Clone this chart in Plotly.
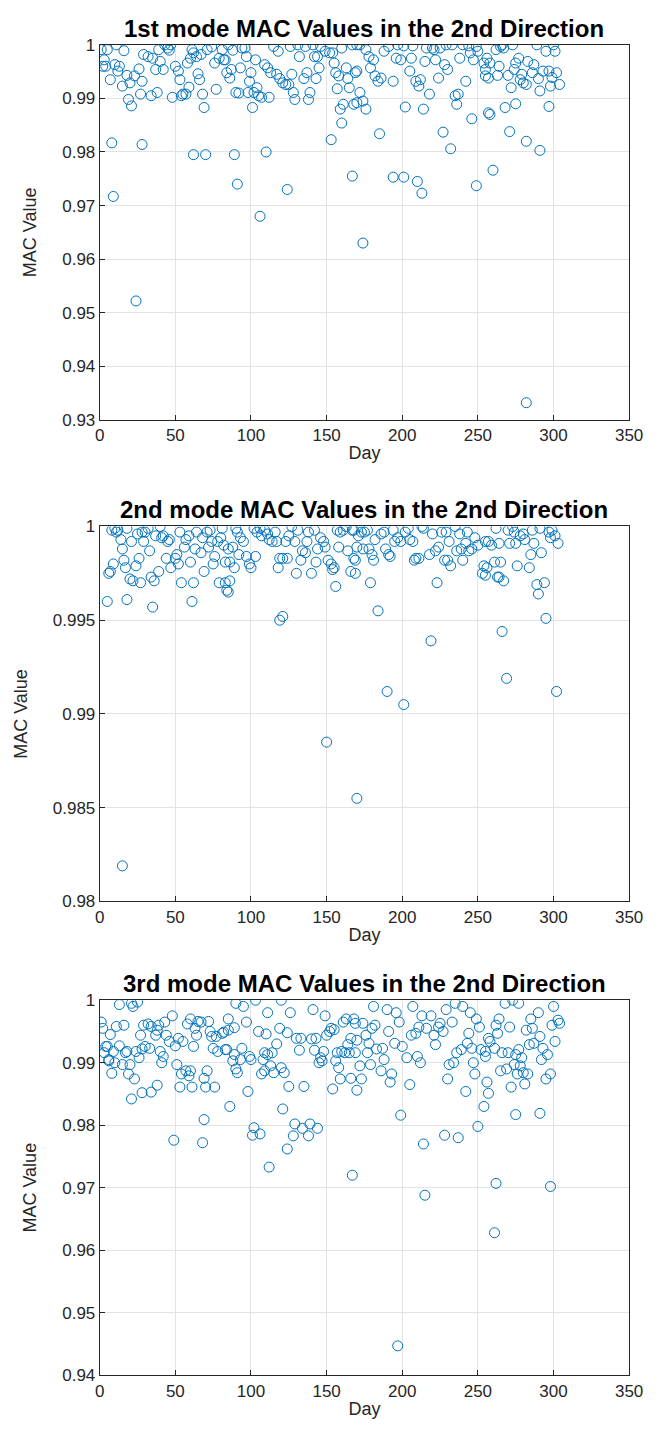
import plotly.graph_objects as go

# ---------------- data ----------------
day1 = [1, 5, 3, 4, 2, 7, 11, 16, 10, 13, 12, 15, 19, 21, 18, 23, 20, 26, 29, 32,
        27, 28, 35, 34, 38, 40, 37, 42, 39, 43, 45, 47, 46, 48, 50, 53, 52, 54, 55, 57,
        59, 58, 60, 62, 61, 65, 66, 68, 64, 69, 67, 71, 74, 77, 76, 79, 81, 82, 84,
        8, 28, 62, 70, 9, 24,
        85, 83, 88, 87, 86, 94, 96, 97, 93, 100, 99, 103, 90, 92, 98, 102, 104, 105, 107, 112,
        101, 109, 111, 113, 115, 118, 117, 119, 121, 123, 125, 127, 128, 129, 126, 131, 132, 136, 135, 137,
        139, 138, 141, 142, 144, 145, 143, 146, 149, 152, 154, 155, 156, 158, 157, 161, 159, 160, 163, 164,
        165, 167, 169, 168,
        89, 110, 153, 160, 91, 106, 124, 167, 174,
        170, 172, 176, 178, 179, 181, 170, 172, 170, 174, 176, 182, 184, 186, 188, 191, 194, 196, 199, 197,
        201, 206, 205, 207, 209, 211, 212, 215, 218, 216, 220, 222, 224, 221, 225, 228, 230, 229, 233, 235,
        237, 236, 238, 240, 242, 244, 245, 247, 249, 250, 254, 255,
        185, 227, 232, 246, 202, 214, 257, 194, 201, 210, 213, 249,
        256, 255, 257, 258, 262, 263, 265, 266, 264, 267, 270, 272, 273, 274, 275, 277, 278, 279, 280, 282,
        283, 286, 287, 289, 290, 291, 293, 295, 297, 298, 299, 300, 301, 302, 304,
        258, 268, 275, 271, 282, 291, 297, 260, 282]
mac1 = [0.9991, 0.9991, 0.9972, 0.9960, 0.9960, 0.9935, 1.0000, 0.9989, 0.9963, 0.9960,
        0.9951, 0.9923, 0.9898, 0.9886, 0.9943, 0.9942, 0.9929, 0.9955, 0.9982, 0.9978,
        0.9908, 0.9932, 0.9975, 0.9905, 0.9911, 0.9969, 0.9954, 0.9954, 0.9991, 1.0000,
        0.9994, 1.0000, 0.9990, 0.9902, 0.9960, 0.9935, 0.9951, 0.9905, 0.9908, 0.9908,
        0.9921, 0.9966, 0.9975, 0.9985, 0.9991, 0.9946, 0.9935, 0.9908, 0.9978, 0.9883,
        0.9982, 0.9991, 0.9996, 0.9917, 0.9966, 0.9975, 0.9991, 0.9972, 0.9948,
        0.9817, 0.9814, 0.9795, 0.9795, 0.9717, 0.9522,
        1.0000, 0.9972, 0.9990, 0.9954, 0.9938, 0.9994, 0.9994, 0.9978, 0.9957, 0.9948,
        0.9932, 0.9972, 0.9911, 0.9910, 0.9911, 0.9911, 0.9920, 0.9905, 0.9902, 0.9902,
        0.9883, 0.9963, 0.9957, 0.9948, 0.9997, 0.9988, 0.9945, 0.9937, 0.9929, 0.9926,
        0.9926, 0.9945, 0.9911, 0.9898, 0.9997, 1.0000, 0.9978, 0.9997, 0.9937, 0.9948,
        0.9911, 0.9898, 1.0000, 0.9978, 0.9978, 0.9957, 0.9937, 0.9997, 0.9988, 0.9985,
        0.9985, 0.9966, 0.9948, 0.9942, 0.9918, 0.9889, 0.9880, 0.9994, 0.9957, 0.9937,
        0.9920, 1.0000, 0.9948, 0.9889,
        0.9795, 0.9800, 0.9823, 0.9854, 0.9740, 0.9680, 0.9730, 0.9755, 0.9630,
        1.0000, 1.0000, 0.9991, 0.9978, 0.9957, 0.9972, 0.9951, 0.9911, 0.9892, 0.9895,
        0.9880, 0.9942, 0.9932, 0.9938, 0.9988, 0.9997, 0.9932, 0.9975, 0.9972, 1.0000,
        0.9998, 0.9975, 0.9951, 0.9998, 0.9932, 0.9923, 0.9935, 0.9969, 0.9908, 0.9994,
        0.9994, 0.9972, 0.9938, 0.9991, 0.9994, 0.9963, 0.9954, 1.0000, 1.0000, 0.9905,
        0.9908, 0.9889, 0.9975, 1.0000, 0.9932, 0.9998, 0.9985, 0.9972, 0.9997, 0.9988,
        0.9966, 0.9942,
        0.9834, 0.9837, 0.9806, 0.9862, 0.9884, 0.9880, 0.9873, 0.9753, 0.9753, 0.9745,
        0.9723, 0.9737,
        0.9975, 0.9954, 0.9938, 0.9966, 0.9991, 0.9943, 0.9997, 1.0000, 0.9960, 0.9994,
        0.9943, 0.9920, 1.0000, 0.9954, 0.9966, 0.9975, 0.9935, 0.9945, 0.9929, 0.9926,
        0.9969, 0.9948, 0.9963, 1.0000, 0.9937, 0.9914, 0.9951, 0.9988, 0.9951, 0.9923,
        0.9939, 1.0000, 0.9988, 0.9948, 0.9926,
        0.9870, 0.9883, 0.9890, 0.9838, 0.9820, 0.9803, 0.9885, 0.9766, 0.9332]

day2 = [6, 7, 5, 9, 8, 11, 10, 12, 14, 15, 16, 17, 18, 18, 20, 22, 21, 24, 25, 26,
        27, 28, 29, 30, 32, 33, 35, 34, 36, 37, 39, 40, 41, 42, 44, 45, 46, 47, 50, 51,
        52, 53, 54, 56, 57, 59, 60, 61, 62, 63, 64, 67, 68, 69, 71, 72, 73, 74, 75, 76,
        78, 79, 80, 81, 82, 84, 83, 15,
        85, 88, 86, 89, 83, 86, 85, 90, 91, 93, 95, 92, 97, 99, 100, 103, 102, 104, 106, 107,
        109, 111, 112, 114, 116, 117, 119, 118, 121, 124, 119, 121, 123, 125, 127, 129, 131, 130, 133, 134,
        136, 137, 138, 140, 142, 143, 144, 146, 148, 149, 151, 153, 154, 155, 156, 157, 158, 159, 161, 163,
        164, 166, 167, 169, 150, 170,
        168, 171, 173, 175, 177, 170, 168, 169, 174, 178, 180, 181, 179, 184, 182, 186, 188, 189, 191, 192,
        194, 195, 197, 199, 202, 204, 205, 207, 208, 209, 211, 213, 214, 218, 220, 222, 223, 224, 226, 228,
        229, 231, 230, 232, 235, 236, 238, 239, 240, 242, 243, 244, 246, 248, 250, 253, 254, 255,
        219, 190, 201,
        257, 259, 256, 255, 261, 262, 263, 264, 265, 264, 267, 266, 270, 271, 273, 274, 275, 276, 278, 280,
        281, 284, 285, 287, 289, 290, 292, 294, 295, 297, 298, 299, 301, 303, 291, 286, 269, 302]
mac2 = [0.9975, 0.9976, 0.9960, 0.9980, 0.9998, 0.9997, 0.9999, 0.9998, 0.9993, 0.9988,
        0.9982, 0.9978, 0.9999, 0.9961, 0.9972, 0.9971, 0.9992, 0.9979, 0.9996, 0.9983,
        0.9970, 0.9997, 0.9992, 0.9997, 0.9999, 0.9987, 0.9957, 0.9973, 0.9971, 0.9995,
        0.9976, 1.0000, 0.9994, 0.9995, 0.9983, 0.9992, 0.9993, 0.9978, 0.9983, 0.9985,
        0.9980, 0.9997, 0.9970, 0.9989, 0.9993, 0.9995, 0.9981, 0.9960, 0.9970, 0.9988,
        0.9997, 0.9986, 0.9994, 0.9976, 0.9997, 0.9989, 0.9998, 0.9992, 0.9980, 0.9984,
        0.9992, 0.9970, 0.9994, 0.9999, 0.9990, 0.9966, 0.9981, 0.9819,
        0.9988, 0.9989, 0.9981, 0.9978, 0.9970, 0.9971, 0.9965, 0.9999, 0.9997, 0.9994,
        0.9992, 0.9985, 0.9984, 0.9980, 0.9978, 0.9984, 0.9999, 0.9997, 0.9999, 0.9995,
        0.9998, 0.9996, 0.9993, 0.9992, 0.9997, 0.9992, 0.9983, 0.9978, 0.9983, 0.9983,
        0.9950, 0.9952, 0.9992, 0.9995, 1.0000, 0.9992, 0.9998, 0.9975, 0.9982, 0.9987,
        0.9986, 0.9992, 0.9997, 0.9975, 0.9998, 0.9981, 0.9988, 0.9994, 0.9992, 0.9989,
        0.9982, 0.9980, 0.9977, 0.9978, 0.9968, 0.9998, 0.9989, 0.9997, 0.9998, 1.0000,
        0.9987, 0.9976, 0.9998, 0.9982, 0.9885, 0.9855,
        0.9998, 0.9995, 0.9997, 0.9997, 0.9998, 0.9989, 0.9983, 0.9975, 0.9988, 0.9988,
        0.9985, 0.9982, 0.9970, 0.9955, 0.9993, 0.9996, 0.9997, 0.9988, 0.9985, 0.9984,
        0.9998, 0.9992, 0.9994, 0.9992, 0.9997, 0.9999, 0.9993, 0.9992, 0.9982, 0.9983,
        0.9983, 1.0000, 0.9999, 0.9985, 0.9996, 0.9987, 0.9970, 0.9989, 0.9997, 0.9982,
        0.9997, 0.9992, 0.9982, 0.9979, 1.0000, 0.9987, 0.9996, 0.9988, 0.9982, 0.9991,
        0.9997, 0.9987, 0.9988, 0.9994, 0.9990, 0.9975, 0.9979, 0.9992,
        0.9939, 0.9912, 0.9905,
        0.9992, 0.9990, 0.9978, 0.9974, 0.9981, 0.9999, 0.9973, 0.9991, 0.9981, 0.9973,
        0.9971, 0.9944, 0.9998, 0.9991, 1.0000, 0.9997, 0.9991, 0.9979, 0.9995, 0.9996,
        0.9993, 0.9978, 0.9985, 0.9991, 0.9969, 0.9964, 0.9986, 0.9970, 0.9951, 0.9997,
        0.9994, 0.9998, 0.9995, 0.9991, 0.9999, 0.9998, 0.9919, 0.9912]

day3 = [1, 2, 4, 5, 3, 6, 7, 11, 16, 9, 13, 18, 17, 6, 10, 15, 20, 8, 19, 23,
        21, 24, 26, 28, 30, 33, 27, 29, 34, 37, 38, 39, 43, 40, 42, 41, 38, 34, 28, 44,
        46, 50, 52, 55, 51, 54, 57, 60, 59, 53, 61, 49, 58, 63, 62, 64, 67, 69, 71, 70,
        76, 69, 68, 73, 74, 77, 75, 78, 81, 84,
        82, 85, 89, 83, 88, 90, 91, 89, 94, 93, 97, 99, 100, 98, 86, 105, 110, 119, 124, 117,
        109, 111, 114, 108, 113, 109, 107, 115, 120, 122, 125, 135, 121, 102, 101, 106, 129, 134, 139, 144,
        128, 138, 130, 133, 132, 140, 143, 142, 148, 146, 145, 147, 150, 152, 153, 155, 154, 157, 156, 158,
        160, 162, 164, 165, 166, 159, 166, 170, 161, 169, 124, 112,
        170, 169, 172, 173, 176, 177, 174, 180, 182, 178, 183, 187, 179, 186, 188, 191, 195, 193, 192, 198,
        200, 203, 205, 199, 206, 209, 210, 211, 212, 216, 221, 222, 224, 227, 225, 233, 231, 234, 236, 230,
        239, 243, 246, 244, 247, 248, 242, 251, 252, 255, 254, 250, 228, 237, 214,
        215, 167, 197, 262, 261, 298,
        257, 255, 261, 263, 262, 258, 266, 270, 271, 275, 277, 279, 274, 278, 269, 265, 276, 280, 283, 281,
        272, 282, 286, 284, 287, 291, 293, 296, 292, 298, 295, 301, 299, 304, 256, 257, 275, 291,
        13, 21, 22, 25, 32, 48, 60, 65, 72, 85, 90, 95, 103, 111, 120, 126, 141, 149, 163, 168,
        181, 190, 196, 207, 213, 219, 229, 235, 240, 245, 249, 264, 268, 273, 277, 285, 290, 300, 303]
mac3 = [0.9965, 0.9955, 0.9926, 0.9926, 0.9916, 0.9905, 0.9945, 0.9958, 0.9960, 0.9918,
        0.9927, 0.9918, 0.9916, 0.9903, 0.9900, 0.9897, 0.9897, 0.9883, 0.9882, 0.9874,
        0.9842, 0.9918, 0.9908, 0.9922, 0.9926, 0.9923, 0.9944, 0.9960, 0.9958, 0.9944,
        0.9952, 0.9960, 0.9965, 0.9918, 0.9910, 0.9900, 0.9864, 0.9853, 0.9852, 0.9944,
        0.9934, 0.9927, 0.9939, 0.9934, 0.9897, 0.9882, 0.9887, 0.9887, 0.9879, 0.9861,
        0.9861, 0.9776, 0.9962, 0.9955, 0.9926, 0.9944, 0.9965, 0.9875, 0.9887, 0.9861,
        0.9861, 0.9809, 0.9772, 0.9950, 0.9942, 0.9942, 0.9923, 0.9918, 0.9947, 0.9921,
        0.9949, 0.9952, 0.9956, 0.9921, 0.9903, 0.9890, 0.9884, 0.9913, 0.9923, 0.9905,
        0.9965, 0.9910, 0.9905, 0.9854, 0.9830, 0.9950, 0.9946, 0.9955, 0.9948, 0.9930,
        0.9916, 0.9913, 0.9916, 0.9905, 0.9895, 0.9887, 0.9882, 0.9884, 0.9892, 0.9884,
        0.9862, 0.9862, 0.9826, 0.9796, 0.9784, 0.9786, 0.9802, 0.9795, 0.9802, 0.9795,
        0.9783, 0.9783, 0.9939, 0.9939, 0.9920, 0.9938, 0.9939, 0.9920, 0.9918, 0.9908,
        0.9900, 0.9903, 0.9944, 0.9950, 0.9955, 0.9953, 0.9858, 0.9916, 0.9903, 0.9892,
        0.9918, 0.9916, 0.9929, 0.9916, 0.9939, 0.9874, 0.9875, 0.9856, 0.9965, 0.9963,
        0.9762, 0.9733,
        0.9936, 0.9916, 0.9895, 0.9874, 0.9944, 0.9916, 0.9963, 0.9955, 0.9960, 0.9931,
        0.9922, 0.9923, 0.9897, 0.9887, 0.9905, 0.9950, 0.9931, 0.9882, 0.9869, 0.9965,
        0.9926, 0.9908, 0.9865, 0.9816, 0.9944, 0.9947, 0.9910, 0.9957, 0.9900, 0.9955,
        0.9944, 0.9929, 0.9957, 0.9950, 0.9963, 0.9965, 0.9897, 0.9900, 0.9916, 0.9874,
        0.9921, 0.9931, 0.9923, 0.9947, 0.9900, 0.9882, 0.9854, 0.9957, 0.9921, 0.9910,
        0.9830, 0.9798, 0.9784, 0.9780, 0.9770,
        0.9688, 0.9720, 0.9447, 0.9707, 0.9628, 0.9702,
        0.9939, 0.9918, 0.9923, 0.9947, 0.9960, 0.9934, 0.9916, 0.9916, 0.9957, 0.9913,
        0.9921, 0.9908, 0.9897, 0.9895, 0.9890, 0.9887, 0.9882, 0.9884, 0.9882, 0.9866,
        0.9861, 0.9952, 0.9955, 0.9929, 0.9931, 0.9942, 0.9923, 0.9913, 0.9905, 0.9882,
        0.9874, 0.9934, 0.9960, 0.9963, 0.9869, 0.9851, 0.9817, 0.9819,
        0.9993, 0.9995, 0.9990, 0.9997, 0.9962, 0.9975, 0.9970, 0.9966, 0.9966, 0.9970,
        0.9995, 0.9990, 1.0000, 0.9980, 1.0000, 0.9980, 0.9985, 0.9975, 0.9970, 0.9970,
        0.9990, 0.9985, 0.9980, 0.9990, 0.9975, 0.9975, 0.9985, 0.9995, 0.9990, 0.9980,
        0.9970, 0.9970, 0.9995, 1.0000, 0.9995, 0.9970, 0.9980, 0.9990, 0.9968]

titles = ["1st mode MAC Values in the 2nd Direction",
          "2nd mode MAC Values in the 2nd Direction",
          "3rd mode MAC Values in the 2nd Direction"]
x_ticks = [0, 50, 100, 150, 200, 250, 300, 350]
y_ticks1 = [0.93, 0.94, 0.95, 0.96, 0.97, 0.98, 0.99, 1.0]
y_text1 = ["0.93", "0.94", "0.95", "0.96", "0.97", "0.98", "0.99", "1"]
y_ticks2 = [0.98, 0.985, 0.99, 0.995, 1.0]
y_text2 = ["0.98", "0.985", "0.99", "0.995", "1"]
y_ticks3 = [0.94, 0.95, 0.96, 0.97, 0.98, 0.99, 1.0]
y_text3 = ["0.94", "0.95", "0.96", "0.97", "0.98", "0.99", "1"]

# ---------------- figure ----------------
W, H = 665, 1456
x_dom = [97.5 / W, 642.5 / W]
tops = [36.3, 524.3, 1004.3]
height_px = 380
y_doms = [[1 - (t + height_px) / H, 1 - t / H] for t in tops]

FONT = "Liberation Sans, Arial, Helvetica, sans-serif"
BLUE = "#0072BD"
AX = "#262626"

fig = go.Figure()
series = [(day1, mac1), (day2, mac2), (day3, mac3)]
for i, (d, m) in enumerate(series):
    sfx = "" if i == 0 else str(i + 1)
    fig.add_trace(go.Scatter(
        x=d, y=m, mode="markers", xaxis="x" + sfx, yaxis="y" + sfx,
        marker=dict(symbol="circle-open", size=10, color=BLUE, line=dict(width=1, color=BLUE)),
        showlegend=False, hoverinfo="x+y"))

yinfo = [([0.93, 1.0], y_ticks1, y_text1), ([0.98, 1.0], y_ticks2, y_text2), ([0.94, 1.0], y_ticks3, y_text3)]
common = dict(showline=True, linecolor=AX, linewidth=1, mirror=True, ticks="inside", ticklen=5,
              tickcolor=AX, showgrid=True, gridcolor="#e3e3e3", gridwidth=1, zeroline=False,
              tickfont=dict(family=FONT, size=17, color=AX))
layout = dict(width=W, height=H, margin=dict(l=0, r=0, t=0, b=0),
              paper_bgcolor="white", plot_bgcolor="white", annotations=[])
for i in range(3):
    sfx = "" if i == 0 else str(i + 1)
    rng, tv, tt = yinfo[i]
    layout["xaxis" + sfx] = dict(common, domain=x_dom, range=[0, 350], tickvals=x_ticks,
                                 ticktext=[str(v) for v in x_ticks], anchor="y" + sfx,
                                 title=dict(text="Day", font=dict(family=FONT, size=18, color=AX), standoff=2))
    layout["yaxis" + sfx] = dict(common, domain=y_doms[i], range=rng, tickvals=tv, ticktext=tt,
                                 anchor="x" + sfx,
                                 title=dict(text="MAC Value", font=dict(family=FONT, size=18, color=AX), standoff=20))
    layout["annotations"].append(dict(
        text="<b>" + titles[i] + "</b>", x=(x_dom[0] + x_dom[1]) / 2, y=y_doms[i][1],
        xref="paper", yref="paper", xanchor="center", yanchor="bottom", yshift=1, showarrow=False,
        font=dict(family=FONT, size=24, color="black")))

fig.update_layout(**layout)
fig.write_html("out.html")
